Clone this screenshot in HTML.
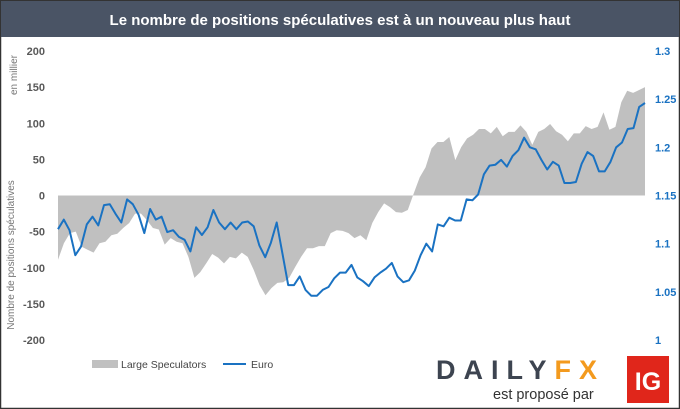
<!DOCTYPE html>
<html><head><meta charset="utf-8">
<style>
html,body{margin:0;padding:0;background:#fff;}
#wrap{position:relative;width:680px;height:409px;overflow:hidden;font-family:"Liberation Sans",sans-serif;}
svg text{font-family:"Liberation Sans",sans-serif;}
</style></head>
<body>
<div id="wrap">
<svg id="chart" width="680" height="409" viewBox="0 0 680 409">
  <rect x="0.5" y="0.5" width="679" height="408" fill="#fff" stroke="#333" stroke-width="1.5"/>
  <rect x="1" y="1" width="678" height="36" fill="#4a5465"/>
  <text x="340" y="25" text-anchor="middle" fill="#fff" font-size="15" font-weight="bold">Le nombre de positions spéculatives est à un nouveau plus haut</text>
  <text transform="translate(17,75) rotate(-90)" text-anchor="middle" fill="#777" font-size="10">en millier</text>
  <text transform="translate(14,255) rotate(-90)" text-anchor="middle" fill="#777" font-size="10">Nombre de positions spéculatives</text>
  <g id="plot"></g>
  <g>
    <rect x="92" y="360" width="26" height="8" fill="#c0c0c0"/>
    <text x="121" y="368" font-size="10.5" fill="#444">Large Speculators</text>
    <line x1="223" y1="364" x2="246" y2="364" stroke="#1a72c2" stroke-width="2"/>
    <text x="251" y="368" font-size="10.5" fill="#444">Euro</text>
  </g>
  <g>
    <text x="436" y="379" font-size="27" font-weight="bold" fill="#3d4450" letter-spacing="8">DAILY<tspan fill="#f39a1e">FX</tspan></text>
    <text x="493" y="399" font-size="14.5" fill="#333">est proposé par</text>
    <rect x="627" y="356" width="42" height="47" fill="#e0261b"/>
    <text x="648" y="390" text-anchor="middle" font-size="25" font-weight="bold" fill="#fff">IG</text>
  </g>
</svg>
</div>
<script>
const leftTicks = [200,150,100,50,0,-50,-100,-150,-200];
const rightTicks = ["1.3","1.25","1.2","1.15","1.1","1.05","1"];
const speculators = [-89,-66,-52,-50,-71,-75,-79,-66,-64,-55,-53,-45,-38,-25,-25,-34,-45,-47,-68,-59,-64,-66,-85,-114,-106,-94,-81,-86,-94,-85,-87,-79,-85,-103,-124,-138,-128,-121,-120,-114,-99,-85,-73,-73,-70,-70,-52,-48,-49,-52,-59,-55,-62,-38,-23,-11,-16,-23,-24,-20,3,25,39,65,74,74,81,49,67,79,84,92,92,86,95,82,88,88,97,88,70,88,92,99,89,84,75,86,86,96,92,95,115,91,95,129,145,142,146,150];
const euro = [1.115,1.125,1.114,1.088,1.097,1.12,1.128,1.119,1.14,1.141,1.131,1.122,1.146,1.141,1.13,1.111,1.136,1.125,1.128,1.112,1.114,1.107,1.104,1.092,1.117,1.109,1.117,1.135,1.122,1.115,1.122,1.115,1.122,1.123,1.118,1.098,1.086,1.101,1.122,1.09,1.057,1.057,1.066,1.052,1.046,1.046,1.052,1.055,1.064,1.07,1.07,1.078,1.065,1.061,1.056,1.065,1.07,1.074,1.08,1.066,1.06,1.062,1.072,1.088,1.1,1.092,1.12,1.118,1.127,1.124,1.124,1.146,1.145,1.151,1.172,1.181,1.182,1.187,1.18,1.191,1.197,1.21,1.2,1.198,1.187,1.177,1.185,1.181,1.163,1.163,1.164,1.183,1.195,1.191,1.175,1.175,1.185,1.2,1.205,1.219,1.22,1.242,1.246];

const X0 = 58, X1 = 645;
const yTop = 51, yBot = 340;
function yLeft(v){ return yTop + (200 - v) / 400 * (yBot - yTop); }
function yRight(v){ return yTop + (1.3 - v) / 0.3 * (yBot - yTop); }
function xIdx(i, n){ return X0 + i / (n - 1) * (X1 - X0); }

const NS = "http://www.w3.org/2000/svg";
const plot = document.getElementById('plot');
function mk(tag, attrs){ const e = document.createElementNS(NS, tag); for (const k in attrs) e.setAttribute(k, attrs[k]); return e; }

leftTicks.forEach(function(t){
  const tx = mk('text', {x: 45, y: yLeft(t) + 4, 'text-anchor': 'end', 'font-size': 11, 'font-weight': 'bold', fill: '#595959'});
  
  
  tx.textContent = t;
  plot.appendChild(tx);
});
rightTicks.forEach(function(t){
  const tx = mk('text', {x: 655, y: yRight(parseFloat(t)) + 4, 'font-size': 11, 'font-weight': 'bold', fill: '#1a72c2'});
  
  
  tx.textContent = t;
  plot.appendChild(tx);
});

let d = 'M' + xIdx(0, speculators.length) + ',' + yLeft(0);
speculators.forEach(function(v, i){ d += ' L' + xIdx(i, speculators.length).toFixed(1) + ',' + yLeft(v).toFixed(1); });
d += ' L' + xIdx(speculators.length - 1, speculators.length) + ',' + yLeft(0) + ' Z';
const area = mk('path', {d: d, fill: '#c0c0c0', stroke: 'none'});


plot.appendChild(area);

let pts = euro.map(function(v, i){ return xIdx(i, euro.length).toFixed(1) + ',' + yRight(v).toFixed(1); }).join(' ');
const line = mk('polyline', {points: pts, fill: 'none', stroke: '#1a72c2', 'stroke-width': 2, 'stroke-linejoin': 'round'});


plot.appendChild(line);
</script>
</body></html>
